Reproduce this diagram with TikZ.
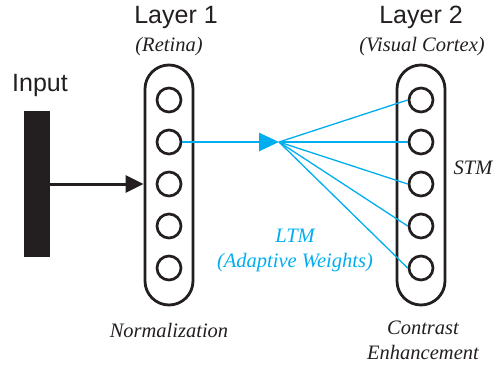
\documentclass[tikz,border=0pt]{standalone}
\usepackage{fontspec}
\setmainfont{Liberation Serif}
\setsansfont{Liberation Sans}
\usetikzlibrary{arrows.meta}
\definecolor{ink}{HTML}{231F20}
\definecolor{cyanline}{HTML}{00AEEF}
\begin{document}
\begin{tikzpicture}[x=1pt,y=-1pt,
  pill/.style={draw=ink,line width=2.8pt,rounded corners=24pt,minimum width=48pt,minimum height=240pt,inner sep=0pt},
  unit/.style={draw=ink,line width=2.7pt,circle,minimum size=24pt,inner sep=0pt},
  head/.style={font=\sffamily\fontsize{25}{30}\selectfont,text=ink},
  note/.style={font=\itshape\fontsize{20.5}{25}\selectfont,text=ink},
  bluenote/.style={font=\itshape\fontsize{20.5}{25}\selectfont,text=cyanline},
  fan/.style={draw=cyanline,line width=1.3pt}]
\useasboundingbox (0,0) rectangle (497,366);
\node[pill] (p1) at (169,185) {};
\node[pill] (p2) at (421,185) {};
\foreach \i/\y in {1/100,2/142,3/184,4/226,5/268}{
  \node[unit] (a\i) at (169,\y) {};
  \node[unit] (b\i) at (421,\y) {};
}
\node[fill=ink,minimum width=26pt,minimum height=146pt,inner sep=0pt] (bar) at (37,184) {};
\draw[ink,line width=3pt,-{Triangle[length=18pt,width=17pt]}] (bar.east |- a3) -- (p1.west |- a3);
\coordinate (hub) at (279,142);
\draw[cyanline,line width=2.7pt,-{Triangle[length=20pt,width=18pt]}] (a2.east) -- (hub);
\foreach \i in {1,...,5}{\draw[fan] (hub) -- (b\i.west);}
\node[head] (l1) at (176,17) {Layer 1};
\node[head] (l2) at (421,17) {Layer 2};
\node[head] (in) at (40,85) {Input};
\node[note] (r1) at (169,47) {(Retina)};
\node[note] (r2) at (422,47) {(Visual Cortex)};
\node[note] (stm) at (473,168) {STM};
\node[bluenote,align=center] (ltm) at (295,250) {LTM\\(Adaptive Weights)};
\node[note] (nm) at (169,330) {Normalization};
\node[note,align=center] (ce) at (423,340) {Contrast\\Enhancement};
\end{tikzpicture}
\end{document}
